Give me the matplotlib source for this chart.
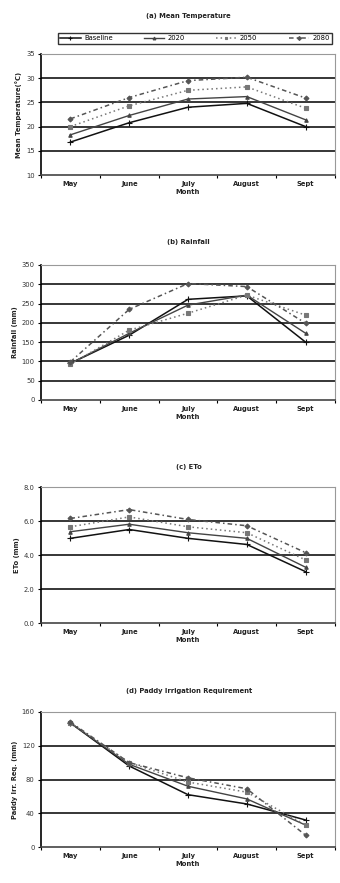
import matplotlib
matplotlib.use("Agg")
import matplotlib.pyplot as plt
import numpy as np

months = ["May", "June", "July", "August", "Sept"]
series_names = ["Baseline", "2020", "2050", "2080"]

temp_baseline = [16.8, 20.8, 24.0, 24.8, 20.0]
temp_2020 = [18.3, 22.3, 25.7, 26.2, 21.4]
temp_2050 = [20.0, 24.3, 27.5, 28.2, 23.8]
temp_2080 = [21.6, 26.0, 29.5, 30.2, 25.9]

rain_baseline = [95, 168, 261, 270, 150]
rain_2020 = [95, 173, 246, 272, 173]
rain_2050 = [93, 181, 225, 272, 220]
rain_2080 = [99, 235, 302, 294, 199]

eto_baseline = [4.98, 5.50, 4.98, 4.62, 3.02]
eto_2020 = [5.37, 5.81, 5.31, 4.98, 3.28]
eto_2050 = [5.66, 6.24, 5.66, 5.31, 3.71]
eto_2080 = [6.15, 6.67, 6.09, 5.72, 4.14]

irr_baseline = [147, 96, 62, 51, 32]
irr_2020 = [147, 98, 72, 57, 26]
irr_2050 = [147, 100, 77, 65, 26]
irr_2080 = [148, 100, 82, 69, 14]

styles = [
    dict(color="#111111", ls="-", marker="+", ms=4, lw=1.1),
    dict(color="#444444", ls="-", marker="^", ms=2.5, lw=1.0),
    dict(color="#777777", ls=(0, (1, 2)), marker="s", ms=2.5, lw=1.1),
    dict(color="#555555", ls=(0, (3, 2, 1, 2)), marker="D", ms=2.5, lw=1.1),
]

W, H = 340, 883
fig = plt.figure(figsize=(W / 100, H / 100), dpi=100)
plt.rcParams["font.family"] = ["DejaVu Sans"]

panels = [
    dict(title="(a) Mean Temperature", ylabel="Mean Temperature(°C)",
         data=[temp_baseline, temp_2020, temp_2050, temp_2080],
         ylim=(10, 35), yticks=[10, 15, 20, 25, 30, 35], fmt="{:.0f}",
         top=54, bottom=175, title_y=16, legend=True),
    dict(title="(b) Rainfall", ylabel="Rainfall (mm)",
         data=[rain_baseline, rain_2020, rain_2050, rain_2080],
         ylim=(0, 350), yticks=list(range(0, 351, 50)), fmt="{:.0f}",
         top=265, bottom=400, title_y=242, legend=False),
    dict(title="(c) ETo", ylabel="ETo (mm)",
         data=[eto_baseline, eto_2020, eto_2050, eto_2080],
         ylim=(0, 8), yticks=[0, 2, 4, 6, 8], fmt="{:.1f}",
         top=487, bottom=623, title_y=467, legend=False),
    dict(title="(d) Paddy Irrigation Requirement", ylabel="Paddy Irr. Req. (mm)",
         data=[irr_baseline, irr_2020, irr_2050, irr_2080],
         ylim=(0, 160), yticks=[0, 40, 80, 120, 160], fmt="{:.0f}",
         top=712, bottom=847, title_y=691, legend=False),
]

left_px, right_px = 41, 335
x = np.arange(len(months))
fs = 4.9
for p in panels:
    ax = fig.add_axes([left_px / W, 1 - p["bottom"] / H,
                       (right_px - left_px) / W, (p["bottom"] - p["top"]) / H])
    lines = []
    for name, vals, st in zip(series_names, p["data"], styles):
        ln, = ax.plot(x, vals, label=name, markeredgewidth=0.8, **st)
        lines.append(ln)
    ax.set_xlim(-0.5, len(months) - 0.5)
    ax.set_ylim(*p["ylim"])
    ax.set_yticks(p["yticks"])
    ax.set_yticklabels([p["fmt"].format(v) for v in p["yticks"]], fontsize=fs, color="#333333")
    ax.set_xticks(x)
    ax.set_xticklabels(months, fontsize=fs, fontweight="bold", color="#222222")
    ax.set_xticks(np.arange(-0.5, len(months), 1), minor=True)
    ax.tick_params(axis="x", which="major", length=0, pad=4)
    ax.tick_params(axis="x", which="minor", length=2.5, width=0.8, direction="out")
    ax.tick_params(axis="y", length=2.5, width=0.8, pad=2)
    for yv in p["yticks"][1:-1]:
        ax.axhline(yv, color="black", lw=1.1, zorder=0)
    for s in ["top", "right"]:
        ax.spines[s].set_color("#999999")
        ax.spines[s].set_linewidth(0.8)
    ax.spines["left"].set_linewidth(1.2)
    ax.spines["bottom"].set_linewidth(1.2)
    ax.spines["bottom"].set_color("#444444")
    ax.set_ylabel(p["ylabel"], fontsize=fs, fontweight="bold", labelpad=3, color="#222222")
    ax.set_xlabel("Month", fontsize=fs, fontweight="bold", labelpad=2, color="#222222")
    fig.text(0.555, 1 - p["title_y"] / H, p["title"], ha="center", va="center",
             fontsize=fs, fontweight="bold", color="#222222")
    if p["legend"]:
        fig.legend(handles=lines, labels=series_names, loc="center",
                   bbox_to_anchor=(195 / W, 1 - 38.5 / H), ncol=4, fontsize=fs,
                   frameon=True, fancybox=False, edgecolor="black",
                   handlelength=3.0, columnspacing=4.6, borderpad=0.3,
                   handletextpad=0.5, markerscale=0.8)

fig.savefig("out.png", dpi=100)
